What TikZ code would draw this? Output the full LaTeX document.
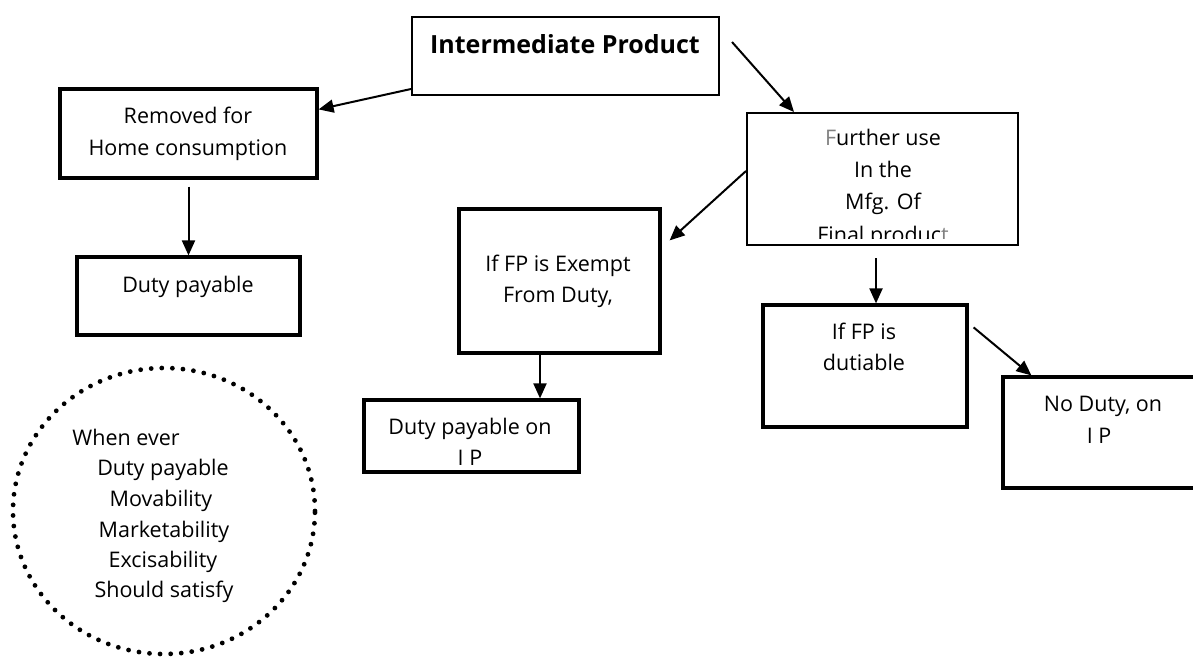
\documentclass[tikz,border=0pt]{standalone}
\usepackage{fontspec}
\setmainfont{Open Sans}
\usetikzlibrary{arrows.meta,shapes.geometric}
\definecolor{softgray}{RGB}{128,128,128}
\begin{document}
\begin{tikzpicture}[x=1pt,y=-1pt,
  box/.style={draw, line width=3.2pt, rectangle, inner sep=0pt},
  thinbox/.style={draw, line width=2pt, rectangle, inner sep=0pt},
  lbl/.style={font=\fontsize{21.5}{31}\selectfont, inner sep=0pt, anchor=base},
  title/.style={font=\fontsize{25}{31}\selectfont\bfseries, inner sep=0pt, anchor=base},
  link/.style={line width=2pt, -{Triangle[length=15pt,width=13pt]}},
  dots/.style={draw, line width=4.8pt, line cap=round, dash pattern=on 0pt off 10.6pt}
]
\useasboundingbox (0,0) rectangle (1193,656);
\clip (0,0) rectangle (1193,656);

% boxes
\node[thinbox, minimum width=307, minimum height=78] (ip) at (565.5,56) {};
\node[box, minimum width=257, minimum height=89] (rem) at (188.5,133.5) {};
\node[box, minimum width=223, minimum height=78] (dp) at (188.5,296) {};
\node[thinbox, minimum width=271, minimum height=132] (fu) at (882.5,179) {};
\node[box, minimum width=201, minimum height=144] (ex) at (559.5,281) {};
\node[box, minimum width=215, minimum height=72] (dpip) at (471.5,436) {};
\node[box, minimum width=204, minimum height=122] (dut) at (865,366) {};
\node[box, minimum width=200, minimum height=111] (nd) at (1103,432.5) {};

% box texts (placed on their baselines)
\node[title] (tip) at (565,53) {Intermediate Product};
\node[lbl] (trem1) at (188,123) {Removed for};
\node[lbl] (trem2) at (188,155) {Home consumption};
\node[lbl] (tdp) at (188,292) {Duty payable};
\begin{scope}
  % the last line runs past the lower edge of its box and is cut off
  \clip (748,114) rectangle (1017,238);
  \node[lbl] (tfu1) at (883,145) {\textcolor{softgray}{F}urther use};
  \node[lbl] (tfu2) at (883,177) {In the};
  \node[lbl] (tfu3) at (883,209) {Mfg. Of};
  \node[lbl] (tfu4) at (883,242) {Final produc\textcolor{softgray}{t}};
\end{scope}
\node[lbl] (tex1) at (558,271) {If FP is Exempt};
\node[lbl] (tex2) at (558,302) {From Duty,};
\node[lbl] (tdpip1) at (470,434) {Duty payable on};
\node[lbl] (tdpip2) at (470,465) {I P};
\node[lbl] (tdut1) at (864,339) {If FP is};
\node[lbl] (tdut2) at (864,370) {dutiable};
\node[lbl] (tnd1) at (1103,411) {No Duty, on};
\node[lbl] (tnd2) at (1099,443) {I P};

% dotted note
\node[dots, ellipse, minimum width=302, minimum height=286, inner sep=0pt] (note) at (164,511) {};
\node[lbl] (n1) at (126,445) {When ever};
\node[lbl] (n2) at (163,475) {Duty payable};
\node[lbl] (n3) at (161,506) {Movability};
\node[lbl] (n4) at (164,537) {Marketability};
\node[lbl] (n5) at (163,567) {Excisability};
\node[lbl] (n6) at (164,597) {Should satisfy};

% connectors
\draw[link] ([yshift=7pt]ip.south west) -- ([yshift=-22pt]rem.north east);
\draw[link] ([xshift=12pt,yshift=14pt]ip.east) -- ([xshift=48pt]fu.north west);
\draw[link] ([yshift=-7pt]rem.south) -- (dp.north);
\draw[link] ([yshift=8pt]fu.west) -- ([xshift=8pt,yshift=-33pt]ex.north east);
\draw[link] ([xshift=-6.5pt,yshift=-12pt]fu.south) -- ([xshift=11pt]dut.north);
\draw[link] ([xshift=-19.5pt]ex.south) -- ([xshift=68.5pt]dpip.north);
\draw[link] ([xshift=5pt,yshift=-24pt]dut.north east) -- ([xshift=30pt]nd.north west);
\end{tikzpicture}
\end{document}
